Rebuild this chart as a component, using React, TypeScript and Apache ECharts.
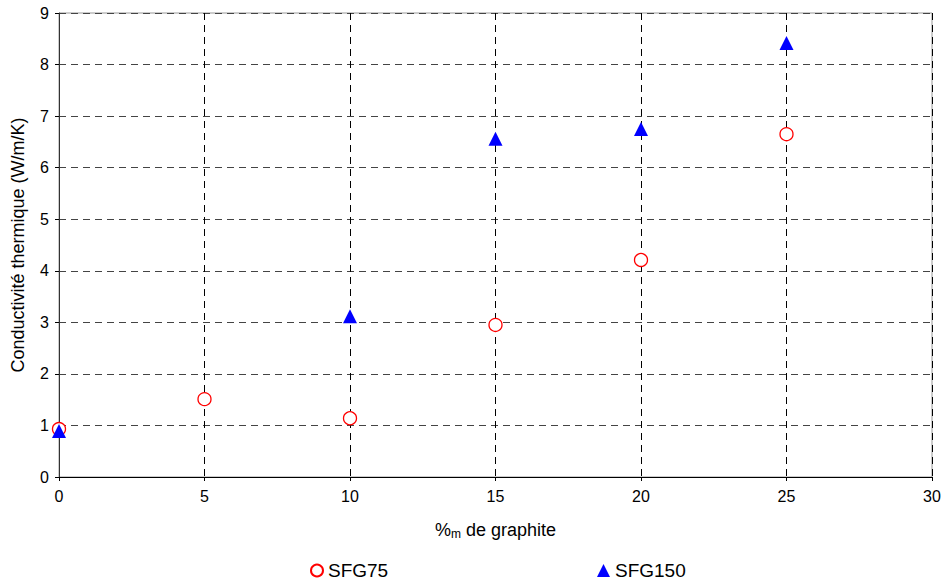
import React, { useEffect, useRef } from "react";
import * as echarts from "echarts";

const sfg75X = [0, 5, 10, 15, 20, 25];
const sfg75Y = [0.93, 1.51, 1.14, 2.95, 4.21, 6.65];
const sfg150X = [0, 10, 15, 20, 25];
const sfg150Y = [0.89, 3.12, 6.56, 6.75, 8.42];

export default function App() {
  const ref = useRef<HTMLDivElement>(null);
  useEffect(() => {
    const chart = echarts.init(ref.current!, null, { renderer: "svg" });
    const font = "Liberation Sans, Arial, sans-serif";
    chart.setOption({
      animation: false,
      backgroundColor: "#ffffff",
      textStyle: { fontFamily: font },
      grid: {
        left: 59,
        top: 13,
        width: 873,
        height: 464,
        show: true,
        borderColor: "#999",
        borderWidth: 1,
        outerBoundsMode: "none",
        containLabel: false,
      },
      legend: [
        {
          data: [{ name: "SFG75", icon: "circle" }],
          left: 310,
          top: 561,
          padding: 0,
          itemWidth: 12,
          itemHeight: 12,
          itemGap: 6,
          textStyle: { fontFamily: font, fontSize: 19, color: "#000" },
        },
        {
          data: [{ name: "SFG150", icon: "triangle" }],
          left: 597,
          top: 561,
          padding: 0,
          itemWidth: 13,
          itemHeight: 13,
          textStyle: { fontFamily: font, fontSize: 19, color: "#000" },
        },
      ],
      xAxis: {
        type: "value",
        min: 0,
        max: 30,
        interval: 5,
        name: "{a|%}{s|m}{a| de graphite}",
        nameLocation: "middle",
        nameGap: 42,
        nameTextStyle: {
          rich: {
            a: { fontFamily: font, fontSize: 18, color: "#000" },
            s: { fontFamily: font, fontSize: 12, color: "#000", verticalAlign: "bottom", padding: [9, 0, 0, 0] },
          },
        },
        axisLine: { lineStyle: { color: "#000", width: 1 } },
        axisTick: { show: true, length: 4, lineStyle: { color: "#000" } },
        axisLabel: { color: "#000", fontSize: 16, fontFamily: font, margin: 11 },
        splitLine: { show: true, lineStyle: { color: "#000", type: [7, 5], width: 1 } },
      },
      yAxis: {
        type: "value",
        min: 0,
        max: 9,
        interval: 1,
        name: "Conductivité thermique (W/m/K)",
        nameLocation: "middle",
        nameGap: 32,
        nameTextStyle: { fontFamily: font, fontSize: 18, color: "#000" },
        axisLine: { show: true, lineStyle: { color: "#333", width: 1 } },
        axisTick: { show: true, length: 4, lineStyle: { color: "#000" } },
        axisLabel: { color: "#000", fontSize: 16, fontFamily: font, margin: 10 },
        splitLine: { show: true, lineStyle: { color: "#444", type: [7, 5], width: 1 } },
      },
      series: [
        {
          name: "SFG75",
          type: "scatter",
          symbol: "circle",
          symbolSize: 13,
          clip: false,
          itemStyle: { color: "#ffffff", borderColor: "#ff0000", borderWidth: 1.3, opacity: 1 },
          data: sfg75X.map((x, i) => [x, sfg75Y[i]]),
          z: 3,
        },
        {
          name: "SFG150",
          type: "scatter",
          symbol: "triangle",
          symbolSize: 14,
          clip: false,
          itemStyle: { color: "#0000ff", opacity: 1 },
          data: sfg150X.map((x, i) => [x, sfg150Y[i]]),
          z: 4,
        },
      ],
    });
    return () => chart.dispose();
  }, []);
  return <div ref={ref} style={{ position: "absolute", left: 0, top: 0, width: 943, height: 583 }} />;
}
